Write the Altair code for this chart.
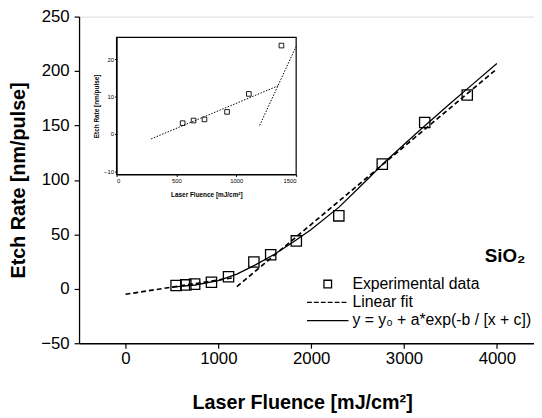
import altair as alt
import pandas as pd

# ---------------- main panel data ----------------
exp_x = [545, 650, 745, 926, 1110, 1383, 1564, 1840, 2298, 2766, 3223, 3681]
exp_y = [3.0, 3.6, 4.3, 6.0, 11.0, 24.6, 31.3, 44.0, 67.0, 114.5, 152.7, 178.0]

lin_seg = ["low", "low", "high", "high"]
lin_x = [0, 1150, 1200, 4000]
lin_y = [-5.0, 10.0, 2.0, 202.0]

fit_x = [500, 750, 1000, 1200, 1400, 1600, 1800, 2000, 2300, 2600, 2800, 3000, 3200, 3500, 3700, 4000]
fit_y = [1.5, 3.5, 7.5, 13.5, 22.0, 31.5, 42.5, 54.5, 75.0, 100.0, 117.0, 132.5, 148.0, 170.5, 185.0, 207.0]

series_names = ["Experimental data", "Linear fit", "y = y\u2080 + a*exp(-b / [x + c])"]

main_x_domain = [-500, 4400]
main_y_domain = [-50, 250]
main_x_ticks = [0, 1000, 2000, 3000, 4000]
main_y_ticks = [-50, 0, 50, 100, 150, 200, 250]

label_text = ["SiO\u2082"]
label_x = [3870]
label_y = [25]

# ---------------- inset data ----------------
ins_x = [552, 643, 734, 923, 1105, 1377]
ins_y = [2.9, 3.6, 3.9, 5.9, 10.7, 23.6]

ins_lin_seg = ["low", "low", "steep", "steep"]
ins_lin_x = [289, 1360, 1195, 1500]
ins_lin_y = [-1.3, 13.0, 2.3, 23.4]

ins_x_domain = [0, 1500]
ins_y_domain = [-10.8, 25.8]
ins_x_ticks = [0, 500, 1000, 1500]
ins_y_ticks = [-10, 0, 10, 20]

FONT = "Liberation Sans"

# legend symbol paths (unit = half of sqrt(symbol size))
sq_path = "M-0.55,-0.55H0.55V0.55H-0.55Z"
dash_path = "M-3,0H-2.3M-2,0H-1.3M-1,0H-0.3M0,0H0.7M1,0H1.7M2,0H2.7"
solid_path = "M-3,0H3"

xs = alt.Scale(domain=main_x_domain, nice=False, zero=False)
ys = alt.Scale(domain=main_y_domain, nice=False, zero=False)

common_axis = dict(grid=False, domainColor="black", tickColor="black", labelColor="black",
                   titleColor="black", labelFont=FONT, titleFont=FONT, domainWidth=1.3, tickWidth=1.2)

x_axis = alt.Axis(orient="bottom", values=main_x_ticks, format="d", title="Laser Fluence [mJ/cm\u00b2]",
                  labelFontSize=17, titleFontSize=20, titleFontWeight="bold", tickSize=5,
                  labelPadding=3, titleX=226, titleY=66, titleBaseline="alphabetic", **common_axis)
y_axis = alt.Axis(orient="left", values=main_y_ticks, format="d", title="Etch Rate [nm/pulse]",
                  labelFontSize=17, titleFontSize=20, titleFontWeight="bold", tickSize=5,
                  labelPadding=5, titleX=-55, titleBaseline="alphabetic", **common_axis)

df_pts = pd.DataFrame({"x": exp_x, "y": exp_y, "series": series_names[0]})
df_lin = pd.DataFrame({"x": lin_x, "y": lin_y, "seg": lin_seg})
df_fit = pd.DataFrame({"x": fit_x, "y": fit_y})
df_lab = pd.DataFrame({"x": label_x, "y": label_y, "t": label_text})

lin_main = alt.Chart(df_lin).mark_line(color="black", strokeDash=[5, 3], strokeWidth=1.7).encode(
    x=alt.X("x:Q", scale=xs, axis=x_axis),
    y=alt.Y("y:Q", scale=ys, axis=y_axis),
    detail="seg:N",
)
fit_main = alt.Chart(df_fit).mark_line(color="black", strokeWidth=1.3).encode(
    x=alt.X("x:Q", scale=xs),
    y=alt.Y("y:Q", scale=ys),
)
pts_main = alt.Chart(df_pts).mark_point(filled=False, size=360, strokeWidth=1.3, color="black", opacity=1).encode(
    x=alt.X("x:Q", scale=xs),
    y=alt.Y("y:Q", scale=ys),
    shape=alt.Shape("series:N",
                    scale=alt.Scale(domain=series_names, range=[sq_path, dash_path, solid_path]),
                    legend=alt.Legend(orient="none", legendX=244, legendY=263, title=None,
                                      symbolSize=196, symbolStrokeColor="black", symbolStrokeWidth=1.3,
                                      symbolFillColor="transparent",
                                      labelFont=FONT, labelFontSize=16, labelColor="black",
                                      labelOffset=17, rowPadding=2.5, labelLimit=0, padding=0)),
)
txt_main = alt.Chart(df_lab).mark_text(font=FONT, fontSize=19, fontWeight="bold", align="left",
                                       baseline="alphabetic", color="black").encode(
    x=alt.X("x:Q", scale=xs),
    y=alt.Y("y:Q", scale=ys),
    text="t:N",
)
main = alt.layer(lin_main, fit_main, pts_main, txt_main)

# ---------------- inset ----------------
ixs = alt.Scale(domain=ins_x_domain, range=[38, 220], nice=False, zero=False)
iys = alt.Scale(domain=ins_y_domain, range=[160, 21], nice=False, zero=False)

ins_common = dict(grid=False, domainColor="black", tickColor="black", labelColor="black",
                  titleColor="black", labelFont=FONT, titleFont=FONT, labelFontSize=6,
                  titleFontSize=6.5, titleFontWeight="bold", tickSize=2, labelPadding=1,
                  domainWidth=1.2, format="d")
ix_axis = alt.Axis(orient="bottom", offset=-171, values=ins_x_ticks,
                   title="Laser Fluence [mJ/cm\u00b2]", titlePadding=8, **ins_common)
iy_axis = alt.Axis(orient="left", offset=-38, values=ins_y_ticks,
                   title="Etch Rate [nm/pulse]", titlePadding=4, **ins_common)

df_box = pd.DataFrame({"x": [ins_x_domain[0]], "x2": [ins_x_domain[1]],
                       "y": [ins_y_domain[0]], "y2": [ins_y_domain[1]]})
df_ins = pd.DataFrame({"x": ins_x, "y": ins_y})
df_ins_lin = pd.DataFrame({"x": ins_lin_x, "y": ins_lin_y, "seg": ins_lin_seg})

box = alt.Chart(df_box).mark_rect(fillOpacity=0, stroke="black", strokeWidth=1.2).encode(
    x=alt.X("x:Q", scale=ixs, axis=ix_axis),
    x2="x2:Q",
    y=alt.Y("y:Q", scale=iys, axis=iy_axis),
    y2="y2:Q",
)
ins_lines = alt.Chart(df_ins_lin).mark_line(color="black", strokeDash=[1.5, 1.5], strokeWidth=1).encode(
    x=alt.X("x:Q", scale=ixs),
    y=alt.Y("y:Q", scale=iys),
    detail="seg:N",
)
ins_pts = alt.Chart(df_ins).mark_point(shape="square", filled=False, size=22, strokeWidth=0.9,
                                       color="black", opacity=1).encode(
    x=alt.X("x:Q", scale=ixs),
    y=alt.Y("y:Q", scale=iys),
)
inset = alt.layer(box, ins_lines, ins_pts)

chart = alt.layer(main, inset).resolve_scale(x="independent", y="independent").properties(
    width=461, height=331,
    padding={"left": 72, "top": 6, "right": 0, "bottom": 70},
    autosize=alt.AutoSizeParams(type="none"),
).configure_view(stroke="black", strokeWidth=1.3).configure(font=FONT, background="white")

chart.save("out.html", embed_options={"renderer": "svg", "actions": False})
